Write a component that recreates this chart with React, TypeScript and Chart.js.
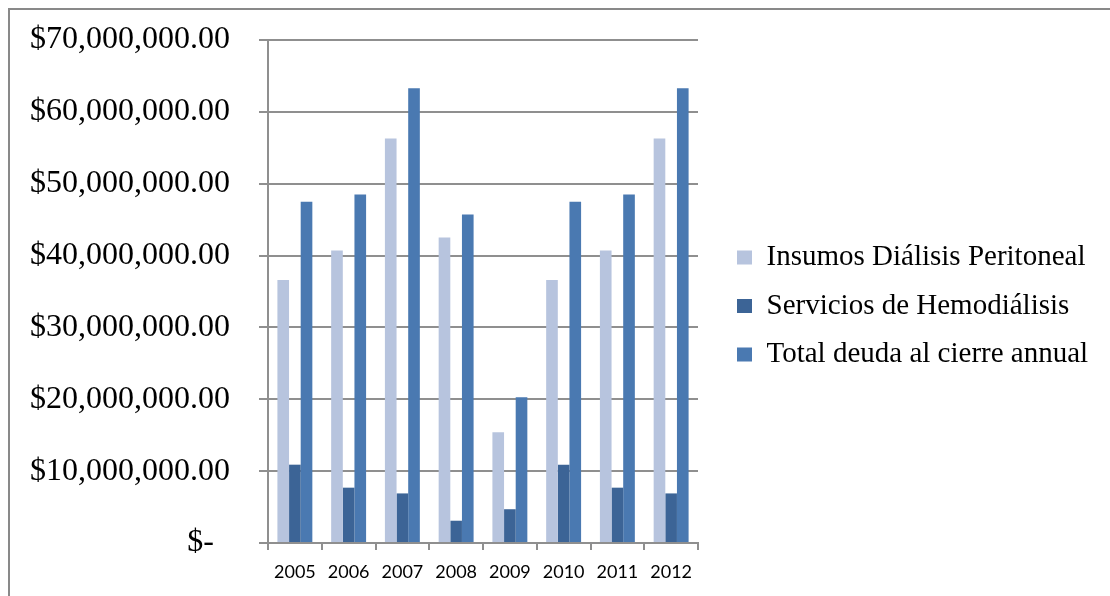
import React, { useEffect, useRef } from "react";
import { Chart, registerables } from "chart.js";

Chart.register(...registerables);

const years = ["2005", "2006", "2007", "2008", "2009", "2010", "2011", "2012"];
const insumosDialisis = [36.6e6, 40.7e6, 56.3e6, 42.5e6, 15.4e6, 36.6e6, 40.7e6, 56.3e6];
const serviciosHemodialisis = [10.9e6, 7.7e6, 6.9e6, 3.1e6, 4.7e6, 10.9e6, 7.7e6, 6.9e6];
const totalDeuda = [47.5e6, 48.5e6, 63.3e6, 45.7e6, 20.3e6, 47.5e6, 48.5e6, 63.3e6];
const seriesNames = [
  "Insumos Diálisis Peritoneal",
  "Servicios de Hemodiálisis",
  "Total deuda al cierre annual",
];
const seriesColors = ["#B7C4DE", "#3C6496", "#4A79B1"];
const yMin = 0;
const yMax = 70e6;
const yStep = 10e6;

const CANVAS_W = 1100;
const CANVAS_H = 586;
const PLOT_RIGHT = 688;
const PAD_TOP = 30;
const LEG_PAD = 19.5;
const LEG_DX = 19.5;
const LEG_DY = -12;

function formatMoney(v: number): string {
  if (v === 0) return "$-  ";
  return (
    "$" +
    v.toLocaleString("en-US", { minimumFractionDigits: 2, maximumFractionDigits: 2 })
  );
}

const legendShift = {
  id: "legendShift",
  afterLayout(chart: any) {
    const lg = chart.legend;
    if (!lg) return;
    lg.left += LEG_DX;
    lg.right += LEG_DX;
    lg.top += LEG_DY;
    lg.bottom += LEG_DY;
  },
};

export default function App() {
  const ref = useRef<HTMLCanvasElement | null>(null);

  useEffect(() => {
    if (!ref.current) return;
    const grid = "#8F8F8F";
    const chart = new Chart(ref.current, {
      type: "bar",
      data: {
        labels: years,
        datasets: [insumosDialisis, serviciosHemodialisis, totalDeuda].map((d, i) => ({
          label: seriesNames[i],
          data: d,
          backgroundColor: seriesColors[i],
          borderWidth: 0,
          categoryPercentage: 0.65,
          barPercentage: 1,
        })),
      },
      options: {
        animation: false,
        responsive: false,
        layout: { padding: { top: PAD_TOP, left: 0, bottom: 0, right: 0 } },
        plugins: {
          tooltip: { enabled: false },
          legend: {
            position: "right",
            maxWidth: 600,
            labels: {
              boxWidth: 15,
              boxHeight: 14,
              padding: LEG_PAD,
              color: "#000",
              font: { family: "'Liberation Serif'", size: 29 },
            },
          },
        },
        scales: {
          x: {
            ticks: {
              color: "#000",
              font: { family: "Lato", size: 18 },
              padding: 11,
              maxRotation: 0,
            },
            grid: {
              drawOnChartArea: false,
              drawTicks: true,
              tickLength: 7,
              color: grid,
              lineWidth: 2,
              offset: true,
            },
            border: { color: grid, width: 2 },
            afterFit: (s: any) => {
              s.height = 53;
            },
          },
          y: {
            min: yMin,
            max: yMax,
            ticks: {
              stepSize: yStep,
              padding: 29,
              color: "#000",
              font: { family: "'Liberation Serif'", size: 32 },
              callback: (v: any) => formatMoney(Number(v)),
            },
            grid: { color: grid, lineWidth: 2, tickLength: 9, drawTicks: true },
            border: { color: grid, width: 2 },
            afterFit: (s: any) => {
              s.width = 258;
              s.paddingTop = 0;
              s.paddingBottom = 0;
            },
          },
        },
      },
      plugins: [legendShift],
    });
    const lw = chart.legend ? chart.legend.width : 0;
    (chart.options.layout as any).padding = {
      top: PAD_TOP,
      left: 0,
      bottom: 0,
      right: Math.max(0, CANVAS_W - PLOT_RIGHT - lw),
    };
    chart.update();
    return () => chart.destroy();
  }, []);

  return (
    <div
      style={{
        position: "absolute",
        left: 8,
        top: 8,
        width: 1102,
        height: 588,
        boxSizing: "border-box",
        borderLeft: "2px solid #898989",
        borderTop: "2px solid #898989",
        background: "#fff",
      }}
    >
      <canvas ref={ref} width={CANVAS_W} height={CANVAS_H} style={{ display: "block" }} />
    </div>
  );
}
